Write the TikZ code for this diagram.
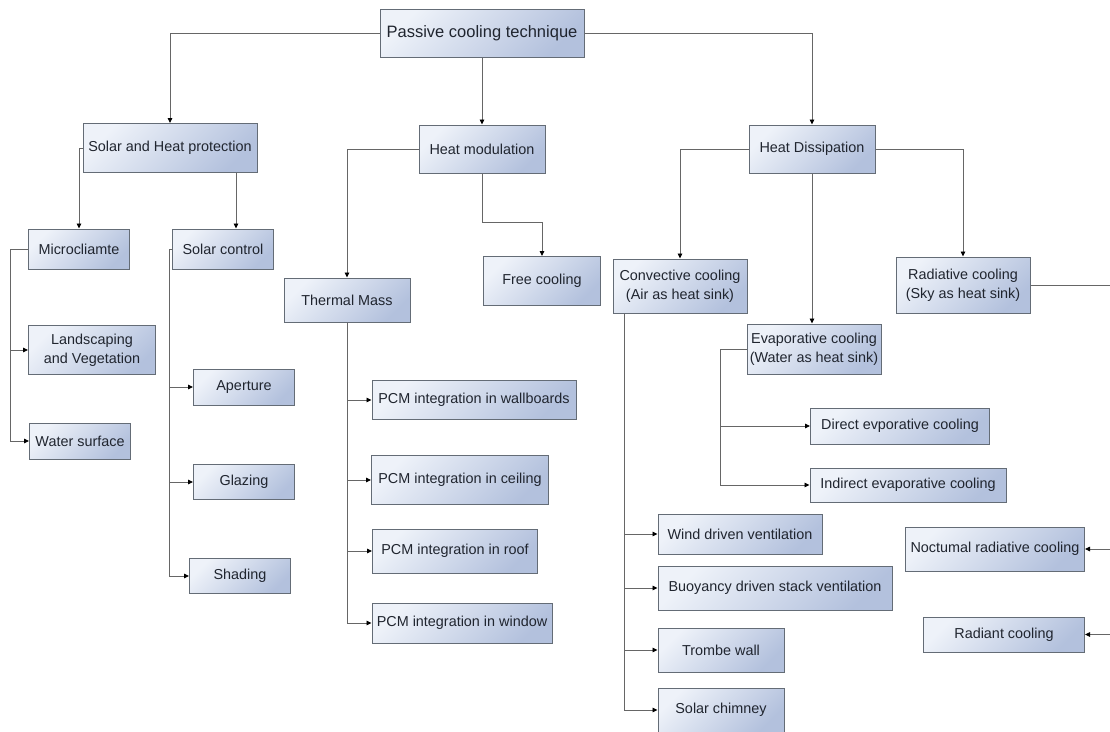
\documentclass[tikz,border=0pt]{standalone}
\usepackage{fontspec}
\setmainfont{Liberation Sans}
\usetikzlibrary{arrows.meta}
\definecolor{boxtop}{HTML}{EEF2F9}
\definecolor{boxbot}{HTML}{B3C1DD}
\definecolor{boxline}{HTML}{646C76}
\definecolor{wiregray}{HTML}{666666}
\definecolor{ink}{HTML}{20252F}

\begin{document}
\begin{tikzpicture}[x=1pt, y=-1pt,
  box/.style={draw=boxline, line width=1pt, top color=boxtop, bottom color=boxbot, shading angle=45,
    text=ink, align=center, inner sep=2pt, font=\fontsize{14.4}{19}\selectfont},
  wire/.style={draw=wiregray, line width=0.9pt},
  >={Triangle[length=5pt,width=4.5pt,color=black]}]
\useasboundingbox[fill=white] (0,0) rectangle (1110,731);

\node[box, minimum width=204pt, minimum height=48pt, font=\fontsize{16.5}{20}\selectfont] (pct) at (482,33) {Passive cooling technique};
\node[box, minimum width=174pt, minimum height=49pt] (shp) at (170,148) {Solar and Heat protection};
\node[box, minimum width=126pt, minimum height=48pt] (hm) at (482,149) {Heat modulation};
\node[box, minimum width=126pt, minimum height=48pt] (hd) at (812,149) {Heat Dissipation};

\node[box, minimum width=101pt, minimum height=40pt] (micro) at (79,249) {Microcliamte};
\node[box, minimum width=101pt, minimum height=40pt] (sctrl) at (223,249) {Solar control};
\node[box, minimum width=126pt, minimum height=44pt] (tm) at (347,300) {Thermal Mass};
\node[box, minimum width=117pt, minimum height=49pt] (free) at (542,281) {Free cooling};
\node[box, minimum width=134pt, minimum height=54pt] (conv) at (680,286) {Convective cooling\\(Air as heat sink)};
\node[box, minimum width=134pt, minimum height=56pt] (rad) at (963,285) {Radiative cooling\\(Sky as heat sink)};
\node[box, minimum width=134pt, minimum height=50pt] (evap) at (814,349) {Evaporative cooling\\(Water as heat sink)};

\node[box, minimum width=127pt, minimum height=49pt] (land) at (92,350) {Landscaping\\and Vegetation};
\node[box, minimum width=101pt, minimum height=36pt] (water) at (80,441) {Water surface};

\node[box, minimum width=101pt, minimum height=36pt] (aper) at (244,387) {Aperture};
\node[box, minimum width=101pt, minimum height=35pt] (glaz) at (244,482) {Glazing};
\node[box, minimum width=101pt, minimum height=35pt] (shad) at (240,576) {Shading};

\node[box, minimum width=204pt, minimum height=39pt] (pcmwall) at (474,400) {PCM integration in wallboards};
\node[box, minimum width=177pt, minimum height=49pt] (pcmceil) at (460,480) {PCM integration in ceiling};
\node[box, minimum width=165pt, minimum height=44pt] (pcmroof) at (455,551) {PCM integration in roof};
\node[box, minimum width=180pt, minimum height=40pt] (pcmwin) at (462,623) {PCM integration in window};

\node[box, minimum width=179pt, minimum height=36pt] (direct) at (900,426) {Direct evporative cooling};
\node[box, minimum width=196pt, minimum height=34pt] (indirect) at (908,485) {Indirect evaporative cooling};

\node[box, minimum width=164pt, minimum height=40pt] (wind) at (740,534) {Wind driven ventilation};
\node[box, minimum width=234pt, minimum height=44pt] (buoy) at (775,588) {Buoyancy driven stack ventilation};
\node[box, minimum width=126pt, minimum height=44pt] (trombe) at (721,650) {Trombe wall};
\node[box, minimum width=126pt, minimum height=44pt] (chimney) at (721,710) {Solar chimney};

\node[box, minimum width=179pt, minimum height=44pt] (noct) at (995,549) {Noctumal radiative cooling};
\node[box, minimum width=161pt, minimum height=35pt] (radiant) at (1004,634.5) {Radiant cooling};

\coordinate (radout) at (1110,285);
\coordinate (noctin) at (1110,549);
\coordinate (radiantin) at (1110,634.5);

\draw[wire,->] (pct.west) -| (shp);
\draw[wire,->] (pct) -- (hm);
\draw[wire,->] (pct.east) -| (hd);

\draw[wire,->] (shp.west) -| (micro);
\draw[wire,->] ([xshift=66pt]shp.south) -- ([xshift=13pt]sctrl.north);
\draw[wire,->] (hm.west) -| (tm);
\draw[wire,->] (hm.south) -- ++(0,49) -| (free);
\draw[wire,->] (hd.west) -| (conv);
\draw[wire,->] (hd.east) -| (rad);
\draw[wire,->] (hd.south) -- (hd.south |- evap.north);

\draw[wire,->] (micro.west) -- ++(-18,0) |- (land);
\draw[wire,->] (micro.west) -- ++(-18,0) |- (water);

\draw[wire,->] (sctrl.west) -- ++(-3,0) |- (aper);
\draw[wire,->] (sctrl.west) -- ++(-3,0) |- (glaz);
\draw[wire,->] (sctrl.west) -- ++(-3,0) |- (shad);

\draw[wire,->] (tm.south) |- (pcmwall);
\draw[wire,->] (tm.south) |- (pcmceil);
\draw[wire,->] (tm.south) |- (pcmroof);
\draw[wire,->] (tm.south) |- (pcmwin);

\draw[wire,->] (evap.west) -- ++(-26,0) |- (direct);
\draw[wire,->] (evap.west) -- ++(-26,0) |- (indirect);

\draw[wire,->] ([xshift=12pt]conv.south west) |- (wind);
\draw[wire,->] ([xshift=12pt]conv.south west) |- (buoy);
\draw[wire,->] ([xshift=12pt]conv.south west) |- (trombe);
\draw[wire,->] ([xshift=12pt]conv.south west) |- (chimney);

\draw[wire] (rad.east) -- (radout);
\draw[wire,->] (noctin) -- (noct.east);
\draw[wire,->] (radiantin) -- (radiant.east);
\end{tikzpicture}
\end{document}
